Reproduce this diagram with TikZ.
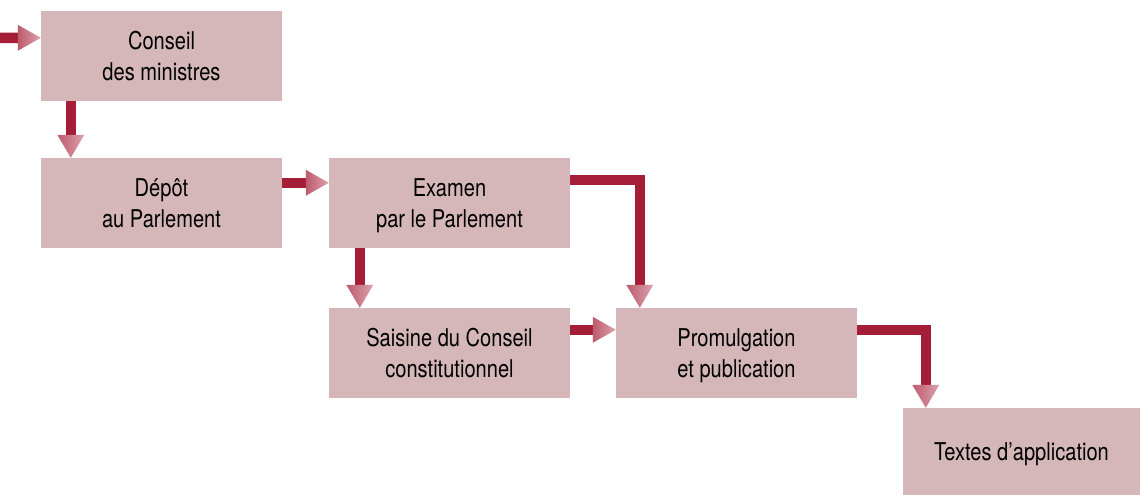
\documentclass[tikz,border=0pt]{standalone}
\usepackage{fontspec}
\setmainfont{TeX Gyre Heros}[FakeStretch=0.82]
\usetikzlibrary{calc}
\definecolor{boxfill}{HTML}{D5B7B9}
\definecolor{shaftcol}{HTML}{A51E38}
\definecolor{headdark}{HTML}{BD5A6E}
\definecolor{headlight}{HTML}{DCA3AD}
\tikzset{
  stepbox/.style={draw=none, fill=boxfill, minimum width=241pt, minimum height=90pt,
    inner sep=0pt, align=center, font=\fontsize{24.5}{31}\selectfont, text=black, text depth=0pt},
  shaft/.style={draw=shaftcol, line width=10.5pt, line join=miter, line cap=butt},
  downhead/.pic={\shade[left color=headdark, right color=headlight] (0,0) -- (-13.5,23) -- (13.5,23) -- cycle;},
  righthead/.pic={\shade[left color=headdark, right color=headlight] (0,0) -- (-23,13) -- (-23,-13) -- cycle;}
}
\begin{document}
\begin{tikzpicture}[x=1pt,y=1pt]
\useasboundingbox (0,0) rectangle (1140,-495);
\node[stepbox] (conseil) at (161.5,-56) {Conseil\\des ministres};
\node[stepbox] (depot) at (161.5,-203) {Dépôt\\au Parlement};
\node[stepbox] (examen) at (449.5,-203) {Examen\\par le Parlement};
\node[stepbox] (saisine) at (449.5,-353) {Saisine du Conseil\\constitutionnel};
\node[stepbox] (promul) at (736.5,-353) {Promulgation\\et publication};
\node[stepbox, minimum width=237pt, minimum height=87pt] (textes) at (1021.5,-451.5) {Textes d’application};
\coordinate (start) at (0,-38);
% entry
\coordinate (t1) at ($(conseil.north west)+(0,-27)$);
\draw[shaft] (start) -- ($(t1)+(-22,0)$);
\pic at (t1) {righthead};
% conseil -> depot
\coordinate (t2) at ($(depot.north west)+(30,0)$);
\draw[shaft] (conseil.south -| t2) -- ($(t2)+(0,22)$);
\pic at (t2) {downhead};
% depot -> examen
\coordinate (t3) at ($(examen.north west)+(0,-25)$);
\draw[shaft] (depot.east |- t3) -- ($(t3)+(-22,0)$);
\pic at (t3) {righthead};
% examen -> saisine
\coordinate (t4) at ($(saisine.north west)+(31,0)$);
\draw[shaft] (examen.south -| t4) -- ($(t4)+(0,22)$);
\pic at (t4) {downhead};
% examen -> promul (elbow)
\coordinate (t5) at ($(promul.north west)+(24,0)$);
\coordinate (e5) at ($(examen.north east)+(0,-22)$);
\draw[shaft] (e5) -| ($(t5)+(0,22)$);
\pic at (t5) {downhead};
% saisine -> promul
\coordinate (t6) at ($(promul.north west)+(0,-22)$);
\draw[shaft] (saisine.east |- t6) -- ($(t6)+(-22,0)$);
\pic at (t6) {righthead};
% promul -> textes (elbow)
\coordinate (t7) at ($(textes.north west)+(23,0)$);
\coordinate (e7) at ($(promul.north east)+(0,-22)$);
\draw[shaft] (e7) -| ($(t7)+(0,22)$);
\pic at (t7) {downhead};
\end{tikzpicture}
\end{document}
